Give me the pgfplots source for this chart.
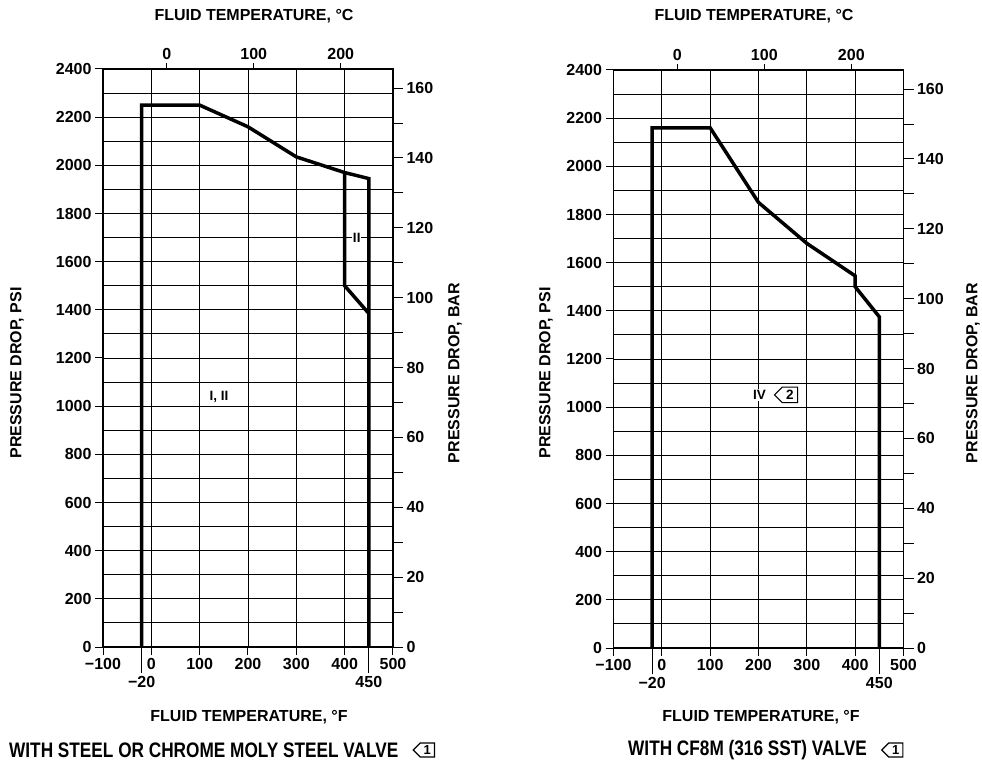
\documentclass[border=0pt]{standalone}
\usepackage{fontspec}
\setmainfont{Liberation Sans}
\newfontfamily\capfont[FakeStretch=0.82]{Liberation Sans}
\usepackage{pgfplots}
\pgfplotsset{compat=1.18}
\usetikzlibrary{shapes.symbols}

\newcommand\tf{\fontsize{16}{16}\selectfont\bfseries}
\newcommand\lf{\fontsize{13.5}{14}\selectfont\bfseries}
\newcommand\flagfont{\fontsize{13}{13}\selectfont\bfseries}

\tikzset{
  flag/.style={font=\flagfont, draw, line width=1.1pt, signal, signal to=west,
    inner xsep=3.5pt, inner ysep=2.5pt},
}

\pgfplotsset{
  base/.style={
    scale only axis, width=290pt, height=578pt,
    xmin=-100, xmax=500,
    /pgf/number format/assume math mode=true,
    tick label style={font=\tf},
    tick style={black, line width=1pt},
    tick align=outside,
  },
  main/.style={
    base, ymin=0, ymax=2400,
    xtick={-100,0,...,500}, xticklabels={−100,0,100,200,300,400,500},
    ytick={0,200,...,2400},
    yticklabels={0,200,400,600,800,1000,1200,1400,1600,1800,2000,2200,2400},
    minor ytick={100,300,...,2300},
    grid=both,
    major grid style={black, line width=0.9pt},
    minor grid style={black, line width=0.9pt},
    axis line style={line width=1.1pt},
    xtick pos=bottom, ytick pos=left,
    major tick length=8pt, minor tick length=0pt,
    extra x ticks={-20,450}, extra x tick labels={−20,450},
    extra x tick style={grid=none, major tick length=26pt},
  },
  toptemp/.style={
    base, ymin=0, ymax=2400,
    axis x line*=top, axis y line=none,
    xtick={32,212,392}, xticklabels={0,100,200},
    major tick length=6pt,
  },
  rightbar/.style={
    base, ymin=0, ymax=165.4739,
    axis x line=none, axis y line*=right,
    ytick={0,20,...,160}, minor ytick={10,30,...,150},
    major tick length=10pt, minor tick length=10pt,
    minor tick style={black, line width=1pt},
    axis line style={line width=1.1pt},
  },
  curve/.style={black, line width=3.5pt, line join=miter},
}

\pgfplotstableread{
x y
-20 0
-20 2250
100 2250
200 2160
300 2035
400 1970
450 1945
450 0
}\steelA
\pgfplotstableread{
x y
400 1970
400 1500
450 1385
}\steelB
\pgfplotstableread{
x y
-20 0
-20 2160
100 2160
200 1850
300 1680
400 1545
400 1500
450 1375
450 0
}\cfem

\begin{document}
\begin{tikzpicture}
\useasboundingbox (0,0) rectangle (982pt,766pt);

% left chart
\begin{axis}[main, at={(103pt,119pt)}, anchor=south west]
\addplot[curve] table {\steelA};
\addplot[curve] table {\steelB};
\node[font=\lf] at (axis cs:140,1038) {I, II};
\node[font=\lf, fill=white, inner sep=1pt] at (axis cs:425,1700) {II};
\end{axis}
\begin{axis}[toptemp, at={(103pt,119pt)}, anchor=south west]
\end{axis}
\begin{axis}[rightbar, at={(103pt,119pt)}, anchor=south west]
\end{axis}

% right chart
\begin{axis}[main, at={(613.5pt,118pt)}, anchor=south west]
\addplot[curve] table {\cfem};
\node[font=\lf, fill=white, inner sep=1pt] at (axis cs:202,1051) {IV};
\node[flag, fill=white, font=\lf, inner xsep=4pt, inner ysep=3pt] at (axis cs:265,1051) {2};
\end{axis}
\begin{axis}[toptemp, at={(613.5pt,118pt)}, anchor=south west]
\end{axis}
\begin{axis}[rightbar, at={(613.5pt,118pt)}, anchor=south west]
\end{axis}

% titles and axis names
\node[font=\tf] at (254pt,750pt) {FLUID TEMPERATURE, \textdegree C};
\node[font=\tf] at (754pt,750pt) {FLUID TEMPERATURE, \textdegree C};
\node[font=\tf] at (249pt,49pt) {FLUID TEMPERATURE, \textdegree F};
\node[font=\tf] at (761pt,49pt) {FLUID TEMPERATURE, \textdegree F};
\node[font=\tf, rotate=90] at (17pt,393pt) {PRESSURE DROP, PSI};
\node[font=\tf, rotate=90] at (455pt,393pt) {PRESSURE DROP, BAR};
\node[font=\tf, rotate=90] at (546pt,393pt) {PRESSURE DROP, PSI};
\node[font=\tf, rotate=90] at (973pt,393pt) {PRESSURE DROP, BAR};

% captions
\node[font=\capfont\fontsize{21}{21}\selectfont\bfseries, anchor=west, inner sep=0pt]
  (capA) at (9pt,16pt) {WITH STEEL OR CHROME MOLY STEEL VALVE};
\node[flag, anchor=west] at ([xshift=14pt]capA.east) {1};
\node[font=\capfont\fontsize{21}{21}\selectfont\bfseries, anchor=west, inner sep=0pt]
  (capB) at (628pt,16pt) {WITH CF8M (316 SST) VALVE};
\node[flag, anchor=west] at ([xshift=14pt]capB.east) {1};
\end{tikzpicture}
\end{document}
